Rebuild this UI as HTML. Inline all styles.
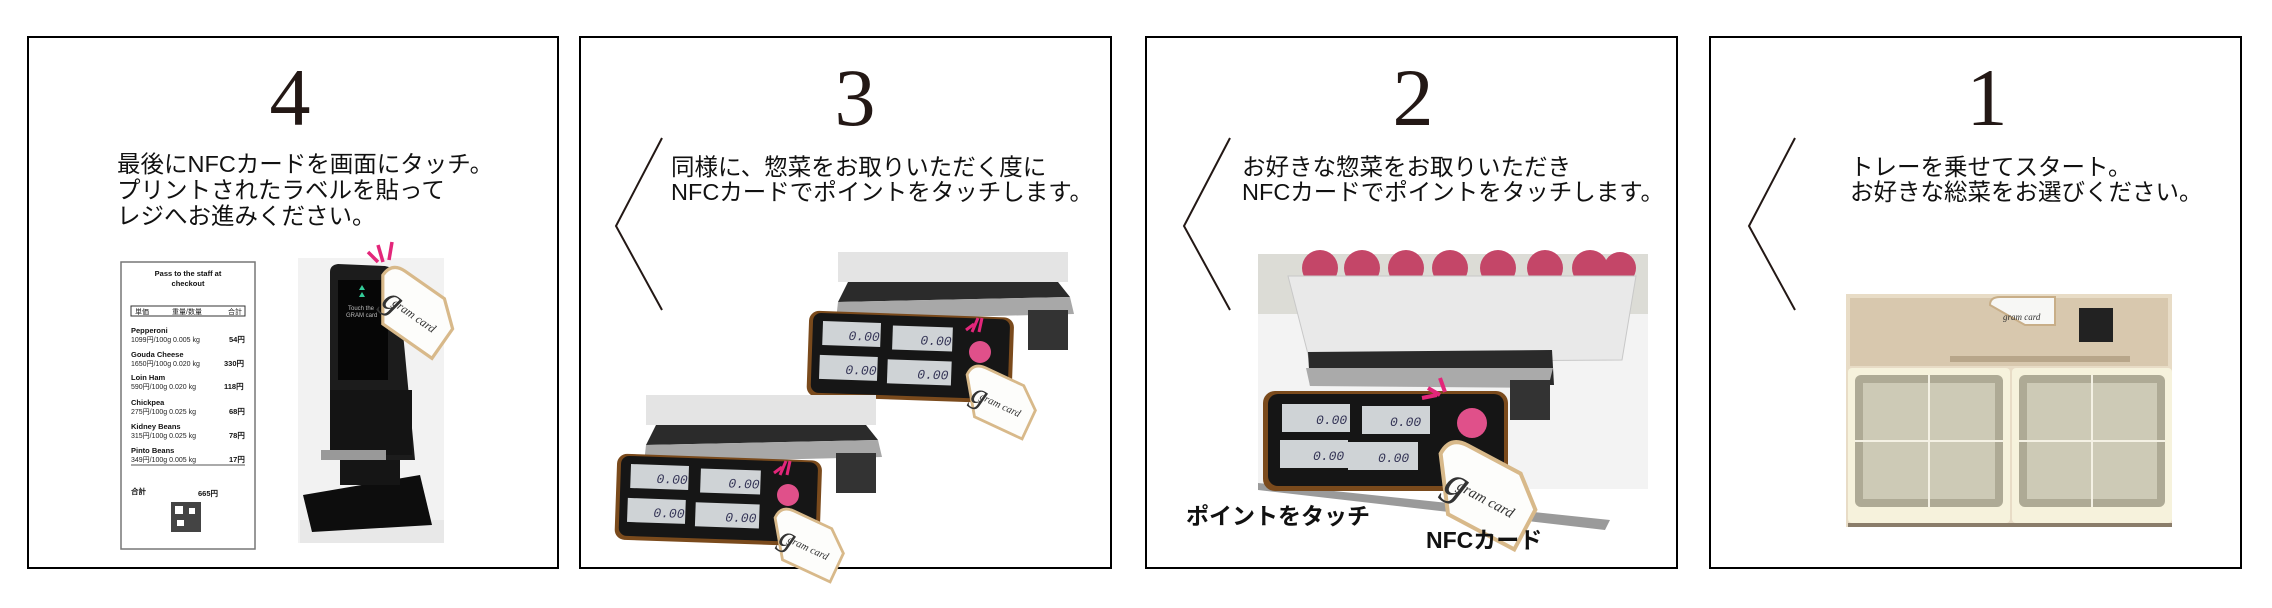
<!DOCTYPE html>
<html><head><meta charset="utf-8"><style>
html,body{margin:0;padding:0;background:#fff;}
svg{display:block;}
.num{font-family:"Liberation Serif",serif;font-size:82px;fill:#231815;text-anchor:middle;}
.jp{font-family:"Liberation Sans","Noto Sans CJK JP",sans-serif;font-size:23.5px;fill:#111;}
.lb{font-family:"Liberation Sans","Noto Sans CJK JP",sans-serif;font-size:23px;font-weight:bold;fill:#111;}
.rc{font-family:"Liberation Sans",sans-serif;font-size:7px;fill:#222;}
.rb{font-family:"Liberation Sans",sans-serif;font-size:7.5px;font-weight:bold;fill:#111;}
.lcd{font-family:"Liberation Mono",monospace;font-size:13px;fill:#335;font-style:italic;}
.gc{font-family:"Liberation Serif",serif;font-style:italic;fill:#333;}
</style></head><body>
<svg width="2272" height="608" viewBox="0 0 2272 608" xmlns="http://www.w3.org/2000/svg">
<defs>
  <g id="tag">
    <path d="M0,20 Q0,0 20,0 L80,0 L110,25 L110,70 L35,70 Z" fill="#fdfdfb" stroke="#d8b98a" stroke-width="4"/>
    <text x="18" y="52" class="gc" font-size="44" fill="#bbb">g</text>
    <text x="30" y="44" class="gc" font-size="15">gram card</text>
  </g>
  <g id="scale">
    <rect x="30" y="0" width="230" height="30" fill="#e4e4e4"/>
    <polygon points="40,30 250,30 262,45 30,50" fill="#2b2b2b"/>
    <polygon points="30,50 262,45 266,62 28,68" fill="#a8a8a8"/>
    <rect x="220" y="58" width="40" height="40" fill="#333"/>
    <rect x="0" y="62" width="205" height="86" rx="10" fill="#7a4a1c" transform="rotate(2 100 100)"/>
    <rect x="4" y="64" width="197" height="80" rx="8" fill="#161616" transform="rotate(2 100 100)"/>
    <g transform="rotate(2 100 100)">
      <rect x="14" y="72" width="58" height="24" fill="#cfd3d6"/>
      <rect x="84" y="74" width="60" height="24" fill="#cfd3d6"/>
      <rect x="12" y="106" width="58" height="24" fill="#cfd3d6"/>
      <rect x="80" y="108" width="64" height="24" fill="#cfd3d6"/>
      <text x="40" y="90" class="lcd">0.00</text>
      <text x="112" y="92" class="lcd">0.00</text>
      <text x="38" y="124" class="lcd">0.00</text>
      <text x="110" y="126" class="lcd">0.00</text>
    </g>
    <circle cx="172" cy="100" r="11" fill="#e0508a"/>
    <g stroke="#e3267a" stroke-width="3"><line x1="158" y1="78" x2="166" y2="72"/><line x1="164" y1="80" x2="170" y2="66"/><line x1="171" y1="80" x2="174" y2="66"/></g>
    <use href="#tag" transform="translate(165,110) rotate(25) scale(0.7)"/>
  </g>
</defs>

<g fill="none" stroke="#000" stroke-width="2">
  <rect x="28" y="37" width="530" height="531"/>
  <rect x="580" y="37" width="531" height="531"/>
  <rect x="1146" y="37" width="531" height="531"/>
  <rect x="1710" y="37" width="531" height="531"/>
</g>
<g fill="none" stroke="#231815" stroke-width="2">
  <polyline points="662,138 616,226 662,310"/>
  <polyline points="1230,138 1184,226 1230,310"/>
  <polyline points="1795,138 1749,226 1795,310"/>
</g>

<text x="290" y="125" class="num">4</text>
<text x="855" y="125" class="num">3</text>
<text x="1413" y="125" class="num">2</text>
<text x="1987" y="125" class="num">1</text>

<text class="jp" x="117" y="172">最後にNFCカードを画面にタッチ。</text>
<text class="jp" x="117" y="198">プリントされたラベルを貼って</text>
<text class="jp" x="117" y="224">レジへお進みください。</text>

<text class="jp" x="671" y="175">同様に、惣菜をお取りいただく度に</text>
<text class="jp" x="671" y="200">NFCカードでポイントをタッチします。</text>

<text class="jp" x="1242" y="175">お好きな惣菜をお取りいただき</text>
<text class="jp" x="1242" y="200">NFCカードでポイントをタッチします。</text>

<text class="jp" x="1850" y="175">トレーを乗せてスタート。</text>
<text class="jp" x="1850" y="200">お好きな総菜をお選びください。</text>

<!-- Panel 4: receipt -->
<rect x="121" y="262" width="134" height="287" fill="#fff" stroke="#777" stroke-width="1.5"/>
<text class="rb" x="188" y="276" text-anchor="middle">Pass to the staff at</text>
<text class="rb" x="188" y="286" text-anchor="middle">checkout</text>
<rect x="131" y="306" width="114" height="10" fill="none" stroke="#333"/>
<text class="rc" x="135" y="314">単価</text><text class="rc" x="172" y="314">重量/数量</text><text class="rc" x="228" y="314">合計</text>
<g>
<text class="rb" x="131" y="333">Pepperoni</text><text class="rc" x="131" y="342">1099円/100g 0.005 kg</text><text class="rb" x="229" y="342">54円</text>
<text class="rb" x="131" y="357">Gouda Cheese</text><text class="rc" x="131" y="366">1650円/100g 0.020 kg</text><text class="rb" x="224" y="366">330円</text>
<text class="rb" x="131" y="380">Loin Ham</text><text class="rc" x="131" y="389">590円/100g 0.020 kg</text><text class="rb" x="224" y="389">118円</text>
<text class="rb" x="131" y="405">Chickpea</text><text class="rc" x="131" y="414">275円/100g 0.025 kg</text><text class="rb" x="229" y="414">68円</text>
<text class="rb" x="131" y="429">Kidney Beans</text><text class="rc" x="131" y="438">315円/100g 0.025 kg</text><text class="rb" x="229" y="438">78円</text>
<text class="rb" x="131" y="453">Pinto Beans</text><text class="rc" x="131" y="462">349円/100g 0.005 kg</text><text class="rb" x="229" y="462">17円</text>
</g>
<line x1="131" y1="465" x2="245" y2="465" stroke="#555"/>
<text class="rb" x="131" y="494" font-size="12">合計</text>
<text class="rb" x="198" y="496" font-size="17" fill="#333">665円</text>
<rect x="171" y="502" width="30" height="30" fill="#444"/>
<rect x="175" y="506" width="8" height="8" fill="#fff"/><rect x="189" y="508" width="6" height="6" fill="#fff"/><rect x="177" y="520" width="7" height="6" fill="#fff"/>

<!-- Panel 4: kiosk -->
<rect x="298" y="258" width="146" height="285" fill="#f2f2f2"/>
<polygon points="300,520 444,520 444,543 300,543" fill="#e8e8e8"/>
<path d="M330,272 Q330,265 338,264 L385,266 Q395,268 398,280 L415,460 L330,460 Z" fill="#1c1c1c"/>
<rect x="338" y="280" width="50" height="100" fill="#060606"/>
<polygon points="362,285 365,290 359,290" fill="#3c9"/>
<polygon points="362,292 365,297 359,297" fill="#3c9"/>
<text x="348" y="310" font-family="Liberation Sans,sans-serif" font-size="6" fill="#bbb">Touch the</text>
<text x="346" y="317" font-family="Liberation Sans,sans-serif" font-size="6" fill="#bbb">GRAM card</text>
<rect x="330" y="390" width="82" height="65" fill="#141414"/>
<rect x="321" y="450" width="65" height="10" fill="#999"/>
<polygon points="303,495 420,475 432,525 312,532" fill="#0d0d0d"/>
<rect x="340" y="460" width="60" height="25" fill="#151515"/>
<g stroke="#e3267a" stroke-width="3.5"><line x1="368" y1="252" x2="378" y2="262"/><line x1="378" y1="245" x2="383" y2="262"/><line x1="392" y1="242" x2="389" y2="260"/></g>
<use href="#tag" transform="translate(392,262) rotate(35) scale(0.8)"/>

<use href="#scale" transform="translate(808,252)"/>
<use href="#scale" transform="translate(616,395)"/>

<!-- Panel 2 illustration -->
<rect x="1258" y="254" width="390" height="235" fill="#f3f3f3"/>
<rect x="1258" y="254" width="390" height="60" fill="#dcdcd6"/>
<polygon points="1258,483 1610,520 1605,530 1258,490" fill="#9a9a9a"/>
<g fill="#c44668">
  <circle cx="1320" cy="268" r="18"/><circle cx="1362" cy="268" r="18"/><circle cx="1406" cy="268" r="18"/><circle cx="1450" cy="268" r="18"/><circle cx="1498" cy="268" r="18"/><circle cx="1545" cy="268" r="18"/><circle cx="1590" cy="268" r="18"/><circle cx="1620" cy="268" r="16"/>
</g>
<polygon points="1288,276 1636,276 1622,360 1310,362" fill="#e9e9e9" stroke="#c8c8c8"/>
<polygon points="1308,352 1552,350 1554,385 1310,386" fill="#2a2a2a"/>
<polygon points="1306,368 1553,368 1548,388 1310,386" fill="#aaa"/>
<rect x="1510" y="380" width="40" height="40" fill="#333"/>
<rect x="1263" y="391" width="245" height="100" rx="12" fill="#7a4a1c"/>
<rect x="1268" y="394" width="236" height="92" rx="10" fill="#151515"/>
<rect x="1282" y="404" width="68" height="28" fill="#cfd3d6"/><rect x="1362" y="406" width="68" height="28" fill="#cfd3d6"/>
<rect x="1280" y="440" width="68" height="28" fill="#cfd3d6"/><rect x="1348" y="442" width="70" height="28" fill="#cfd3d6"/>
<text x="1316" y="424" class="lcd">0.00</text><text x="1390" y="426" class="lcd">0.00</text>
<text x="1313" y="460" class="lcd">0.00</text><text x="1378" y="462" class="lcd">0.00</text>
<circle cx="1472" cy="423" r="15" fill="#e0508a"/>
<g stroke="#e3267a" stroke-width="4"><line x1="1422" y1="398" x2="1437" y2="395"/><line x1="1428" y1="388" x2="1440" y2="395"/><line x1="1440" y1="378" x2="1445" y2="392"/></g>
<use href="#tag" transform="translate(1450,436) rotate(28) scale(1.0)"/>
<text class="lb" x="1186" y="524">ポイントをタッチ</text>
<text class="lb" x="1426" y="548">NFCカード</text>

<!-- Panel 1 tray -->
<rect x="1846" y="294" width="326" height="233" fill="#e8dcc6"/>
<rect x="1850" y="298" width="318" height="68" fill="#d8c8ae"/>
<rect x="1950" y="356" width="180" height="6" fill="#b8a68a"/>
<path d="M1990,305 Q1990,297 2000,297 L2055,297 L2055,325 L2025,325 Z" fill="#f7f7f5" stroke="#c8ae88" stroke-width="2"/>
<text x="2003" y="320" class="gc" font-size="9">gram card</text>
<rect x="2079" y="308" width="34" height="34" fill="#222"/>
<g>
  <rect x="1848" y="368" width="162" height="155" rx="4" fill="#f6f2dc"/>
  <rect x="2012" y="368" width="160" height="155" rx="4" fill="#f6f2dc"/>
  <rect x="1855" y="375" width="148" height="132" rx="6" fill="#aeaa95"/>
  <rect x="2019" y="375" width="146" height="132" rx="6" fill="#aeaa95"/>
  <rect x="1863" y="383" width="132" height="116" fill="#cdcab6"/>
  <rect x="2027" y="383" width="130" height="116" fill="#cdcab6"/>
  <g stroke="#f4f1e4" stroke-width="2">
    <line x1="1929" y1="375" x2="1929" y2="507"/><line x1="1855" y1="441" x2="2003" y2="441"/>
    <line x1="2092" y1="375" x2="2092" y2="507"/><line x1="2019" y1="441" x2="2165" y2="441"/>
  </g>
  <rect x="1848" y="523" width="324" height="4" fill="#8a7d6a"/>
</g>
</svg>
</body></html>
